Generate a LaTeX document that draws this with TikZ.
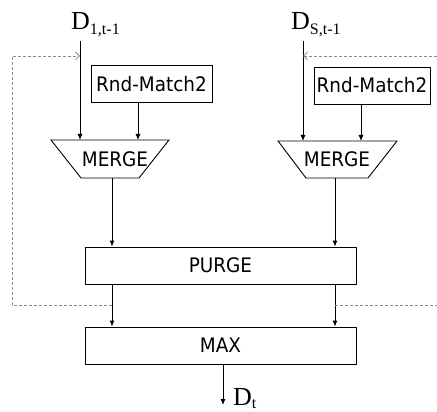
\documentclass[tikz,border=0pt]{standalone}
\usepackage{fontspec}
\setmainfont{Liberation Serif}
\newfontfamily\boxfont[FakeStretch=0.92]{DejaVu Sans}
\usetikzlibrary{arrows.meta}

\tikzset{
  block/.style={draw, line width=0.9pt, rectangle, inner sep=0pt,
    font=\boxfont\fontsize{20}{22}\selectfont},
  flow/.style={line width=0.9pt, -{Latex[length=6pt,width=5pt]}},
  feedback/.style={draw=black!45, line width=0.8pt, dash pattern=on 3pt off 2pt},
  fbarrow/.style={feedback, -{Straight Barb[length=4pt,width=8pt]}},
  trap/.style={draw, line width=0.9pt, line join=miter},
  label/.style={anchor=base west, inner sep=0pt, font=\fontsize{26}{26}\selectfont},
  mtext/.style={inner sep=0pt, font=\boxfont\fontsize{20}{22}\selectfont}
}
\newcommand{\sbs}[2][5pt]{\raisebox{-#1}{\fontsize{16}{16}\selectfont #2}}

\begin{document}
\begin{tikzpicture}[x=1pt, y=-1pt]
\useasboundingbox (0,0) rectangle (437,412);

% input labels
\node[label] (d1) at (71,30) {D\sbs{1,t-1}};
\node[label] (ds) at (291,30) {D\sbs{S,t-1}};
\coordinate (d1top) at (80,41);
\coordinate (dstop) at (303,41);

% random matching boxes
\node[block, minimum width=121pt, minimum height=37pt] (rnd1) at (151.5,84) {Rnd-Match2};
\node[block, minimum width=116pt, minimum height=37pt] (rnds) at (372,85.5) {Rnd-Match2};

% MERGE trapezoids
\draw[trap] (51,140) -- (169,140) -- (139,178) -- (81,178) -- cycle;
\draw[trap] (278,141) -- (397,141) -- (368,178) -- (306,178) -- cycle;
\node[mtext] (merge1) at (115,159) {MERGE};
\node[mtext] (merges) at (337,159) {MERGE};
\coordinate (m1in1) at (80,140);
\coordinate (m1in2) at (138,140);
\coordinate (msin1) at (303,141);
\coordinate (msin2) at (361,141);
\coordinate (m1out) at (112,178);
\coordinate (msout) at (335,178);

% PURGE and MAX
\node[block, minimum width=271pt, minimum height=37pt] (purge) at (220.5,265.5) {PURGE};
\node[block, minimum width=271pt, minimum height=37pt] (max) at (220.5,345.5) {MAX};

% connectors into MERGE
\draw[flow] (d1top) -- (m1in1);
\draw[flow] (rnd1.south -| m1in2) -- (m1in2);
\draw[flow] (dstop) -- (msin1);
\draw[flow] (rnds.south -| msin2) -- (msin2);

% MERGE -> PURGE -> MAX
\draw[flow] (m1out) -- (m1out |- purge.north);
\draw[flow] (msout) -- (msout |- purge.north);
\draw[flow] (m1out |- purge.south) -- (m1out |- max.north);
\draw[flow] (msout |- purge.south) -- (msout |- max.north);

% output
\coordinate (outtop) at (223,364);
\coordinate (outend) at (223,405);
\draw[flow] (outtop) -- (outend);
\node[label] (dt) at (233,405) {D\sbs[3.5pt]{t}};

% feedback of purged data to the next round
\coordinate (fbl) at (112,305);
\coordinate (fbr) at (335,305);
\draw[fbarrow] (fbl) -- (12,305) -- (12,56) -- (80,56);
\draw[feedback] (fbr) -- (437,305);
\draw[fbarrow] (437,56) -- (303,56);
\end{tikzpicture}
\end{document}
